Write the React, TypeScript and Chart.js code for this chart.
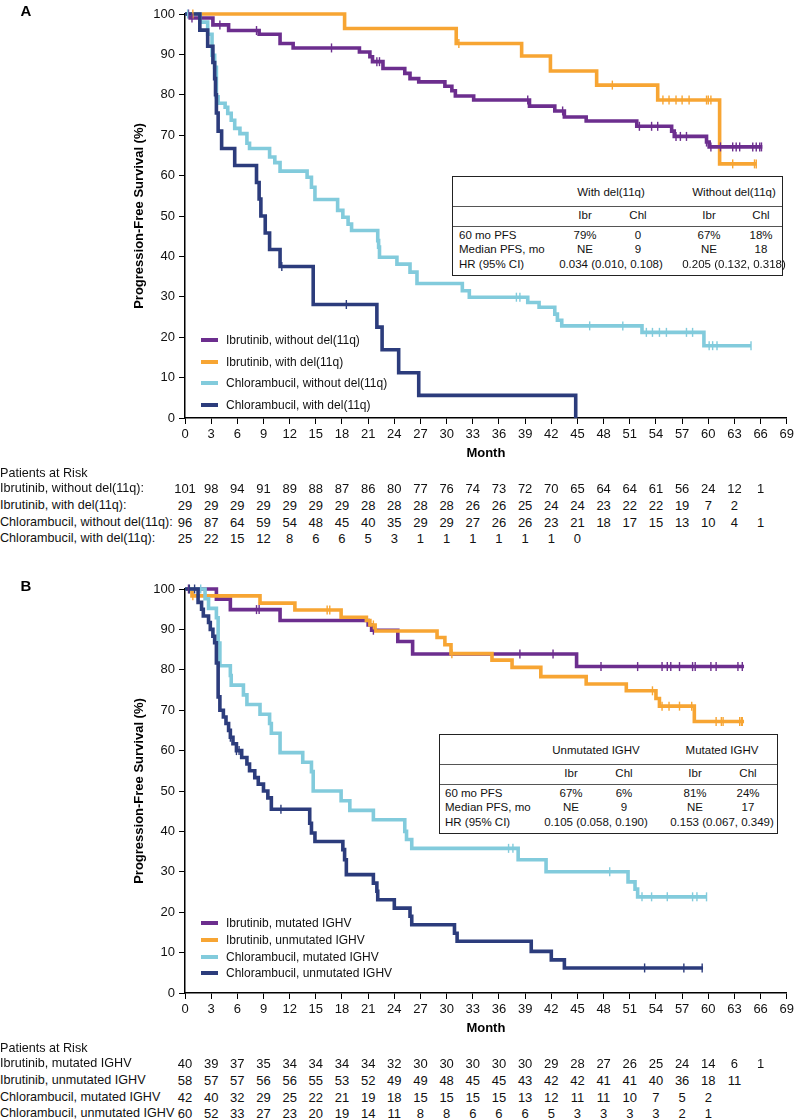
import React, { useEffect, useRef, useState } from "react";
import { Chart, registerables } from "chart.js";

Chart.register(...registerables);

const FONT = '"Liberation Sans", Arial, Helvetica, sans-serif';

const PURPLE = "#6C2E8E";
const ORANGE = "#F7A533";
const LIGHTBLUE = "#82CBDC";
const NAVY = "#2C3C7C";

const riskMonths = [0, 3, 6, 9, 12, 15, 18, 21, 24, 27, 30, 33, 36, 39, 42, 45, 48, 51, 54, 57, 60, 63, 66, 69];

// ---------- Panel A data ----------
const aIbrNoDelTimes = [0, 0.6, 3.2, 5.0, 8.5, 10.9, 12.4, 20.0, 21.2, 21.5, 22.7, 25.2, 25.8, 26.8, 29.8, 30.6, 31.0, 33.1, 39.5, 42.4, 43.5, 46.0, 51.8, 55.8, 56.1, 59.8, 60.1, 66.2];
const aIbrNoDelSurv = [100, 99.0, 97.3, 95.9, 95.0, 92.7, 91.6, 90.6, 89.4, 88.2, 86.5, 85.3, 84.0, 83.2, 82.1, 81.0, 79.7, 78.7, 77.2, 76.0, 74.5, 73.5, 72.2, 71.0, 69.7, 68.3, 67.1, 67.1];
const aIbrNoDelCensor = [0.4, 0.8, 4.0, 8.2, 16.8, 22.0, 22.3, 39.3, 43.3, 52.1, 53.5, 54.2, 56.3, 56.8, 57.5, 59.8, 60.3, 61.4, 62.8, 63.2, 63.6, 65.1, 65.5, 65.9, 66.1];

const aIbrDelTimes = [0, 18.3, 31.1, 38.6, 41.9, 47.2, 54.2, 61.3, 65.5];
const aIbrDelSurv = [100, 96.4, 92.7, 89.6, 85.9, 82.4, 78.7, 62.9, 62.9];
const aIbrDelCensor = [0.9, 31.4, 49.0, 54.8, 55.5, 56.3, 57.0, 57.8, 59.8, 60.0, 60.3, 62.8, 65.3, 65.5];

const aChlNoDelTimes = [0, 1.7, 2.6, 3.1, 3.4, 3.6, 3.8, 4.6, 4.9, 5.3, 5.7, 6.3, 7.1, 7.4, 9.7, 10.3, 10.9, 14.0, 14.5, 14.9, 17.5, 18.1, 18.7, 19.1, 22.1, 22.2, 22.3, 24.3, 25.8, 26.6, 31.8, 32.6, 39.3, 40.6, 42.4, 42.7, 43.2, 52.4, 59.5, 64.9];
const aChlNoDelSurv = [100, 98.0, 95.0, 89.8, 86.8, 79.5, 77.9, 76.9, 75.4, 73.7, 71.7, 70.4, 68.0, 66.7, 64.6, 63.2, 61.1, 59.6, 57.1, 54.1, 51.4, 49.7, 48.0, 46.4, 43.9, 42.3, 39.8, 38.1, 36.1, 33.3, 31.5, 29.9, 28.6, 27.4, 25.7, 24.2, 22.8, 21.2, 17.9, 17.9];
const aChlNoDelCensor = [0.3, 38.0, 38.4, 46.4, 50.2, 52.9, 53.6, 54.4, 55.2, 57.5, 58.2, 60.1, 60.5, 61.0, 64.9];

const aChlDelTimes = [0, 1.7, 2.6, 3.2, 3.4, 3.5, 3.6, 3.8, 4.2, 5.7, 8.2, 8.5, 8.7, 9.2, 9.7, 10.9, 14.7, 22.0, 22.6, 24.5, 26.8, 44.8];
const aChlDelSurv = [100, 96, 92, 88, 84, 80, 75.5, 71, 66.7, 62.5, 58.3, 54.2, 50, 45.8, 41.7, 37.5, 28.1, 22.5, 16.9, 11.2, 5.6, 0];
const aChlDelCensor = [11.1, 18.5];

const aLabels = ["Ibrutinib, without del(11q)", "Ibrutinib, with del(11q)", "Chlorambucil, without del(11q)", "Chlorambucil, with del(11q)"];
const aRiskLabels = ["Ibrutinib, without del(11q):", "Ibrutinib, with del(11q):", "Chlorambucil, without del(11q):", "Chlorambucil, with del(11q):"];
const aRisk1 = [101, 98, 94, 91, 89, 88, 87, 86, 80, 77, 76, 74, 73, 72, 70, 65, 64, 64, 61, 56, 24, 12, 1];
const aRisk2 = [29, 29, 29, 29, 29, 29, 29, 28, 28, 28, 28, 26, 26, 25, 24, 24, 23, 22, 22, 19, 7, 2];
const aRisk3 = [96, 87, 64, 59, 54, 48, 45, 40, 35, 29, 29, 27, 26, 26, 23, 21, 18, 17, 15, 13, 10, 4, 1];
const aRisk4 = [25, 22, 15, 12, 8, 6, 6, 5, 3, 1, 1, 1, 1, 1, 1, 0];

const aTableGroups = ["With del(11q)", "Without del(11q)"];
const aTable60 = ["79%", "0", "67%", "18%"];
const aTableMedian = ["NE", "9", "NE", "18"];
const aTableHR = ["0.034 (0.010, 0.108)", "0.205 (0.132, 0.318)"];

// ---------- Panel B data ----------
const bIbrMutTimes = [0, 3.6, 5.2, 10.9, 21.0, 21.4, 24.4, 26.1, 44.9, 64.1];
const bIbrMutSurv = [100, 97.5, 94.9, 92.2, 91.1, 89.8, 87.0, 83.9, 80.8, 80.8];
const bIbrMutCensor = [0.4, 8.2, 8.5, 21.6, 38.4, 42.2, 47.7, 51.9, 54.7, 55.3, 55.7, 56.7, 58.2, 58.5, 60.3, 60.9, 63.4, 63.9];

const bIbrUnmutTimes = [0, 0.8, 8.6, 12.6, 17.9, 20.8, 21.2, 21.8, 28.9, 29.8, 30.5, 35.2, 37.5, 40.8, 46.0, 50.6, 54.0, 54.4, 58.4, 64.1];
const bIbrUnmutSurv = [100, 98.3, 96.5, 94.8, 93.0, 92.2, 91.1, 89.6, 88.0, 86.2, 84.0, 82.4, 80.6, 78.3, 76.5, 74.8, 72.9, 71.0, 67.2, 67.2];
const bIbrUnmutCensor = [0.9, 16.3, 16.6, 21.6, 30.6, 53.6, 54.7, 55.5, 56.7, 58.1, 60.9, 61.5, 61.7, 63.6, 63.8, 63.9];

const bChlMutTimes = [0, 2.3, 2.7, 3.6, 3.8, 4.0, 5.2, 5.3, 6.7, 7.1, 8.6, 9.7, 9.9, 10.9, 13.5, 14.5, 14.7, 17.9, 18.9, 21.6, 25.2, 25.4, 26.0, 38.2, 41.4, 50.8, 51.6, 51.9, 59.8];
const bChlMutSurv = [100, 97.6, 95.2, 92.9, 86.6, 81.0, 78.6, 76.2, 73.8, 71.4, 69.0, 66.7, 64.3, 59.5, 57.1, 54.8, 50.0, 47.6, 45.2, 42.9, 40.0, 38.0, 35.8, 33.0, 30.0, 27.5, 25.7, 23.8, 23.8];
const bChlMutCensor = [1.8, 37.1, 37.6, 48.7, 52.4, 53.5, 55.3, 58.2, 58.7, 59.8];

const bChlUnmutTimes = [0, 1.5, 1.9, 2.1, 2.7, 2.9, 3.2, 3.4, 3.6, 3.8, 4.0, 4.4, 4.7, 5.0, 5.2, 5.5, 5.9, 6.5, 7.1, 7.4, 8.0, 8.4, 9.0, 9.5, 9.9, 14.3, 14.5, 14.9, 18.1, 18.3, 18.5, 21.6, 22.0, 22.1, 24.0, 25.8, 26.0, 30.9, 31.2, 39.7, 42.0, 43.5, 59.4];
const bChlUnmutSurv = [100, 96.7, 95.0, 93.3, 91.7, 90.0, 88.3, 86.7, 81.7, 73.3, 70.0, 68.3, 66.7, 65.0, 63.3, 61.7, 60.0, 58.3, 56.7, 55.0, 53.3, 51.7, 50.0, 48.3, 45.5, 42.0, 39.6, 37.5, 35.5, 33.0, 29.3, 27.2, 25.2, 23.1, 21.0, 19.0, 16.9, 14.8, 12.8, 10.3, 8.2, 6.2, 6.2];
const bChlUnmutCensor = [0.5, 1.1, 5.2, 5.9, 6.2, 11.0, 52.7, 57.2, 59.3];

const bLabels = ["Ibrutinib, mutated IGHV", "Ibrutinib, unmutated IGHV", "Chlorambucil, mutated IGHV", "Chlorambucil, unmutated IGHV"];
const bRisk1 = [40, 39, 37, 35, 34, 34, 34, 34, 32, 30, 30, 30, 30, 30, 29, 28, 27, 26, 25, 24, 14, 6, 1];
const bRisk2 = [58, 57, 57, 56, 56, 55, 53, 52, 49, 49, 48, 45, 45, 43, 42, 42, 41, 41, 40, 36, 18, 11];
const bRisk3 = [42, 40, 32, 29, 25, 22, 21, 19, 18, 15, 15, 15, 15, 13, 12, 11, 11, 10, 7, 5, 2];
const bRisk4 = [60, 52, 33, 27, 23, 20, 19, 14, 11, 8, 8, 6, 6, 6, 5, 3, 3, 3, 3, 2, 1];

const bTableGroups = ["Unmutated IGHV", "Mutated IGHV"];
const bTable60 = ["67%", "6%", "81%", "24%"];
const bTableMedian = ["NE", "9", "NE", "17"];
const bTableHR = ["0.105 (0.058, 0.190)", "0.153 (0.067, 0.349)"];

const tableSubCols = ["Ibr", "Chl", "Ibr", "Chl"];
const tableRowLabels = ["60 mo PFS", "Median PFS, mo", "HR (95% CI)"];

// ---------- helpers ----------
type Series = { label: string; color: string; times: number[]; surv: number[]; censor: number[]; order: number };

function survAt(times: number[], surv: number[], t: number) {
  let v = surv[0];
  for (let i = 0; i < times.length; i++) if (times[i] <= t) v = surv[i];
  return v;
}

const CANVAS_H = 467;

type TableSpec = {
  left: number; top: number; width: number;
  groups: string[]; r60: string[]; rMed: string[]; hr: string[];
  groupX: number[]; subX: number[]; labelX: number;
};

function InsetTable({ t }: { t: TableSpec }) {
  const base: React.CSSProperties = { position: "absolute", font: `11.5px ${FONT}`, color: "#111", whiteSpace: "nowrap", lineHeight: "13px" };
  const c = (x: number, y: number): React.CSSProperties => ({ ...base, left: x, top: y, transform: "translate(-50%,-50%)" });
  const rowsY = [59, 73.5, 88];
  return (
    <div style={{ position: "absolute", left: t.left, top: t.top, width: t.width, height: 100, border: "1.5px solid #222", boxSizing: "border-box", background: "#fff" }}>
      <div style={{ position: "absolute", left: 0, right: 0, top: 28.5, height: 0, borderTop: "1.5px solid #555" }} />
      <div style={{ position: "absolute", left: 0, right: 0, top: 48.5, height: 0, borderTop: "1.5px solid #555" }} />
      {t.groups.map((g, i) => <div key={"g" + i} style={c(t.groupX[i], 15)}>{g}</div>)}
      {tableSubCols.map((s, i) => <div key={"s" + i} style={c(t.subX[i], 38)}>{s}</div>)}
      {tableRowLabels.map((l, i) => <div key={"l" + i} style={{ ...base, left: t.labelX, top: rowsY[i] - 1.5, transform: "translateY(-50%)" }}>{l}</div>)}
      {t.r60.map((v, i) => <div key={"a" + i} style={c(t.subX[i], rowsY[0] - 1.5)}>{v}</div>)}
      {t.rMed.map((v, i) => <div key={"m" + i} style={c(t.subX[i], rowsY[1] - 1.5)}>{v}</div>)}
      {t.hr.map((v, i) => <div key={"h" + i} style={c(t.groupX[i], rowsY[2] - 1.5)}>{v}</div>)}
    </div>
  );
}

function KMPanel(props: {
  top: number; letter: string; series: Series[]; legendOffsets: number[];
  riskLabels: string[]; riskRows: number[][]; table: TableSpec;
}) {
  const ref = useRef<HTMLCanvasElement>(null);
  const [geo, setGeo] = useState<{ xs: number[]; bottom: number; top: number } | null>(null);

  useEffect(() => {
    const datasets: any[] = [];
    props.series.forEach((s) => {
      datasets.push({
        label: s.label,
        data: s.times.map((t, i) => ({ x: t, y: s.surv[i] })),
        borderColor: s.color,
        backgroundColor: s.color,
        borderWidth: 3.6,
        stepped: "before",
        pointRadius: 0,
        fill: false,
        clip: false,
        order: s.order + 10,
        borderJoinStyle: "miter",
        borderCapStyle: "butt",
      });
      datasets.push({
        label: s.label + " censored",
        data: s.censor.map((t) => ({ x: t, y: survAt(s.times, s.surv, t) })),
        showLine: false,
        pointStyle: "line",
        pointRotation: 90,
        pointRadius: 4.5,
        pointBorderWidth: 1.4,
        pointBorderColor: s.color,
        pointBackgroundColor: s.color,
        clip: false,
        order: s.order,
      });
    });
    const tickFont = { family: FONT, size: 13 };
    const chart = new Chart(ref.current as HTMLCanvasElement, {
      type: "line",
      data: { datasets },
      options: {
        animation: false,
        responsive: false,
        maintainAspectRatio: false,
        events: [],
        layout: { padding: { left: 0, right: 10, top: 14, bottom: 0 } },
        plugins: { legend: { display: false }, tooltip: { enabled: false } },
        scales: {
          x: {
            type: "linear",
            min: 0,
            max: 69,
            ticks: { stepSize: 3, font: tickFont, color: "#111", padding: 3, maxRotation: 0, autoSkip: false },
            grid: { display: true, drawOnChartArea: false, drawTicks: true, tickLength: 6, color: "#000", lineWidth: 1 },
            border: { display: true, color: "#000", width: 1.5 },
            title: { display: true, text: "Month", color: "#000", font: { family: FONT, size: 13, weight: "bold" }, padding: { top: 0, bottom: 6 } },
            afterFit: (s: any) => { s.height = 49; },
          },
          y: {
            type: "linear",
            min: 0,
            max: 100,
            ticks: { stepSize: 10, font: tickFont, color: "#111", padding: 4 },
            grid: { display: true, drawOnChartArea: false, drawTicks: true, tickLength: 6, color: "#000", lineWidth: 1 },
            border: { display: true, color: "#000", width: 1.5 },
            title: { display: true, text: "Progression-Free Survival (%)", color: "#000", font: { family: FONT, size: 13, weight: "bold" }, padding: { top: 132, bottom: 0 } },
            afterFit: (s: any) => { s.width = 185; },
          },
        },
      } as any,
    });
    const xs = riskMonths.map((m) => chart.scales.x.getPixelForValue(m));
    setGeo({ xs, bottom: chart.chartArea.bottom, top: chart.chartArea.top });
    return () => chart.destroy();
  }, []);

  const T = props.top;
  const riskOffsets = [55, 70, 87, 104, 120];
  const text13: React.CSSProperties = { position: "absolute", font: `13px ${FONT}`, color: "#111", whiteSpace: "nowrap", lineHeight: "15px" };
  const label13: React.CSSProperties = { ...text13, font: `12.6px ${FONT}` };

  return (
    <>
      <canvas ref={ref} width={797} height={CANVAS_H} style={{ position: "absolute", left: 0, top: T, width: 797, height: CANVAS_H }} />
      <div style={{ position: "absolute", left: 26, top: T + (geo ? geo.top : 14) - 4, transform: "translate(-50%,-50%)", font: `bold 15px ${FONT}`, color: "#000" }}>{props.letter}</div>
      {geo && (
        <>
          {props.series.map((s, i) => (
            <React.Fragment key={"lg" + i}>
              <div style={{ position: "absolute", left: 201, width: 17, height: 4, top: T + geo.bottom + props.legendOffsets[i] - 2, background: s.color }} />
              <div style={{ position: "absolute", left: 226, top: T + geo.bottom + props.legendOffsets[i], transform: "translateY(-50%)", font: `12px ${FONT}`, color: "#111", whiteSpace: "nowrap", lineHeight: "14px" }}>{s.label}</div>
            </React.Fragment>
          ))}
          <div style={{ ...label13, left: 0, top: T + geo.bottom + riskOffsets[0], transform: "translateY(-50%)" }}>Patients at Risk</div>
          {props.riskRows.map((row, r) => (
            <React.Fragment key={"r" + r}>
              <div style={{ ...label13, left: 0, top: T + geo.bottom + riskOffsets[r + 1], transform: "translateY(-50%)" }}>{props.riskLabels[r]}</div>
              {row.map((v, i) => (
                <div key={i} style={{ ...text13, left: geo.xs[i], top: T + geo.bottom + riskOffsets[r + 1], transform: "translate(-50%,-50%)" }}>{v}</div>
              ))}
            </React.Fragment>
          ))}
        </>
      )}
      <InsetTable t={props.table} />
    </>
  );
}

export default function App() {
  const seriesA: Series[] = [
    { label: aLabels[0], color: PURPLE, times: aIbrNoDelTimes, surv: aIbrNoDelSurv, censor: aIbrNoDelCensor, order: 2 },
    { label: aLabels[1], color: ORANGE, times: aIbrDelTimes, surv: aIbrDelSurv, censor: aIbrDelCensor, order: 3 },
    { label: aLabels[2], color: LIGHTBLUE, times: aChlNoDelTimes, surv: aChlNoDelSurv, censor: aChlNoDelCensor, order: 1 },
    { label: aLabels[3], color: NAVY, times: aChlDelTimes, surv: aChlDelSurv, censor: aChlDelCensor, order: 0 },
  ];
  const seriesB: Series[] = [
    { label: bLabels[0], color: PURPLE, times: bIbrMutTimes, surv: bIbrMutSurv, censor: bIbrMutCensor, order: 3 },
    { label: bLabels[1], color: ORANGE, times: bIbrUnmutTimes, surv: bIbrUnmutSurv, censor: bIbrUnmutCensor, order: 2 },
    { label: bLabels[2], color: LIGHTBLUE, times: bChlMutTimes, surv: bChlMutSurv, censor: bChlMutCensor, order: 1 },
    { label: bLabels[3], color: NAVY, times: bChlUnmutTimes, surv: bChlUnmutSurv, censor: bChlUnmutCensor, order: 0 },
  ];
  const tableA: TableSpec = {
    left: 452, top: 176, width: 331, groups: aTableGroups, r60: aTable60, rMed: aTableMedian, hr: aTableHR,
    groupX: [158, 281], subX: [132, 185, 256, 308], labelX: 6,
  };
  const tableB: TableSpec = {
    left: 439, top: 734, width: 339, groups: bTableGroups, r60: bTable60, rMed: bTableMedian, hr: bTableHR,
    groupX: [156, 282], subX: [131, 184, 255, 308], labelX: 5,
  };
  return (
    <div style={{ position: "absolute", left: 0, top: 0, width: 797, height: 1120, overflow: "hidden", background: "#fff" }}>
      <KMPanel top={0} letter="A" series={seriesA} legendOffsets={[-78, -56.5, -35, -13.5]}
        riskLabels={aRiskLabels} riskRows={[aRisk1, aRisk2, aRisk3, aRisk4]} table={tableA} />
      <KMPanel top={575} letter="B" series={seriesB} legendOffsets={[-70.3, -53, -36.3, -19.7]}
        riskLabels={bLabels} riskRows={[bRisk1, bRisk2, bRisk3, bRisk4]} table={tableB} />
    </div>
  );
}
